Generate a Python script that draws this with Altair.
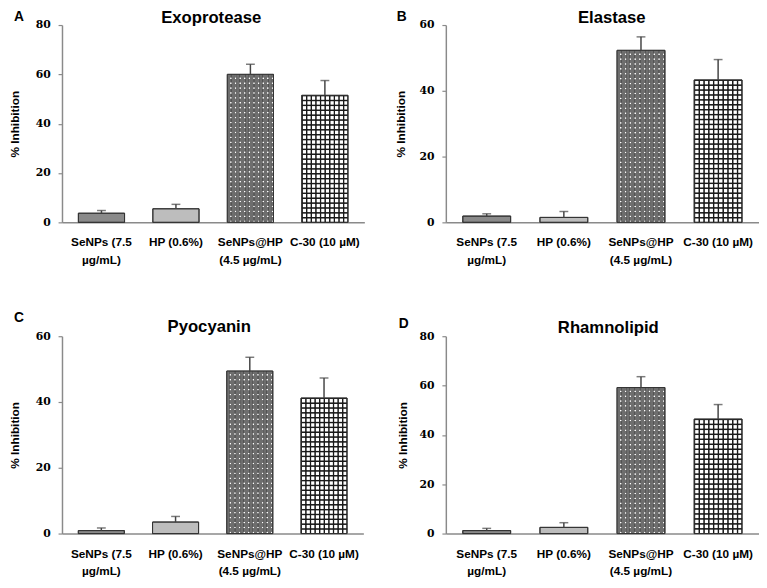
import altair as alt

# ---------------- data ----------------
categories = ["SeNPs (7.5\nµg/mL)", "HP (0.6%)", "SeNPs@HP\n(4.5 µg/mL)", "C-30 (10 µM)"]
panel_titles = ["Exoprotease", "Elastase", "Pyocyanin", "Rhamnolipid"]
panel_letters = ["A", "B", "C", "D"]
y_max = [80, 60, 60, 80]
y_ticks = [[0, 20, 40, 60, 80], [0, 20, 40, 60], [0, 20, 40, 60], [0, 20, 40, 60, 80]]

exoprotease = [3.7, 5.5, 60.0, 51.5]
exoprotease_err = [1.1, 1.8, 4.1, 6.0]
elastase = [1.9, 1.5, 52.3, 43.3]
elastase_err = [0.7, 1.8, 4.1, 6.2]
pyocyanin = [0.9, 3.5, 49.4, 41.2]
pyocyanin_err = [0.8, 1.7, 4.2, 6.1]
rhamnolipid = [1.2, 2.5, 59.2, 46.4]
rhamnolipid_err = [0.9, 1.9, 4.4, 5.9]

series = [exoprotease, elastase, pyocyanin, rhamnolipid]
series_err = [exoprotease_err, elastase_err, pyocyanin_err, rhamnolipid_err]

# ---------------- style ----------------
PLOT_H = 201
panel_w = [308, 319, 307, 319]
letter_pos = [(-49, -4.5), (-50, -4.5), (-49, -14), (-48, -8)]
title_pos = [(152, -1.8), (169, -2.2), (150, -4.3), (165.5, -3)]
ytitle_x = [-44, -42, -44.5, -40.5]
base_colors = ["#8a8a8a", "#bdbdbd", "#ffffff", "#ffffff"]
AXIS_GRAY = "#8a8a8a"
SANS = "Liberation Sans"


def stripes(n, on, off, a, r, across_y):
    stops = []
    for k in range(n):
        stops += [{"offset": round(k / n, 5), "color": on},
                  {"offset": round((k + a) / n, 5), "color": on},
                  {"offset": round((k + a + r) / n, 5), "color": off},
                  {"offset": round((k + 1 - r) / n, 5), "color": off}]
    stops.append({"offset": 1, "color": on})
    g = {"gradient": "linear", "x1": 0, "y1": 0, "stops": stops}
    if across_y:
        g.update({"x2": 0, "y2": 1})
    else:
        g.update({"x2": 1, "y2": 0})
    return g


def make_panel(i):
    vals, errs, ymax, W = series[i], series_err[i], y_max[i], panel_w[i]
    px = PLOT_H / ymax
    recs = []
    for j, (cat, v, e) in enumerate(zip(categories, vals, errs)):
        nh = max(1, int(round(v * px / 5.0)))
        if j == 2:  # gray with white dots
            hp = stripes(nh, "#6e6e6e", "transparent", 0.55, 0.15, True)
            vp = stripes(10, "#6e6e6e", "transparent", 0.55, 0.15, False)
        elif j == 3:  # black grid on white
            hp = stripes(nh, "#1a1a1a", "transparent", 0.12, 0.18, True)
            vp = stripes(10, "#1a1a1a", "transparent", 0.12, 0.18, False)
        else:
            hp = "transparent"
            vp = "transparent"
        recs.append({"category": cat, "value": v, "top": v + e,
                     "base": base_colors[j], "hpat": hp, "vpat": vp})
    data = alt.Data(values=recs)

    X = alt.X("category:N", sort=categories, title=None,
              scale=alt.Scale(paddingInner=0.38, paddingOuter=0.22),
              axis=alt.Axis(labelAngle=0, ticks=False, tickSize=0, labelPadding=15,
                            labelExpr="split(datum.label, '\\n')", labelLineHeight=18,
                            labelFont=SANS, labelFontSize=12, labelFontWeight="bold",
                            labelColor="black", domainColor=AXIS_GRAY, domainWidth=1.5))
    Y = alt.Y("value:Q", title="% Inhibition",
              scale=alt.Scale(domain=[0, ymax], nice=False),
              axis=alt.Axis(values=y_ticks[i], grid=False, tickSize=4, tickColor=AXIS_GRAY,
                            tickWidth=1.2, labelPadding=8, domainColor=AXIS_GRAY, domainWidth=1.5,
                            labelFont="DejaVu Serif", labelFontSize=11, labelFontWeight="bold",
                            labelColor="black", titleFont=SANS, titleFontSize=12,
                            titleFontWeight="bold", titleColor="black", titleAngle=270,
                            titleAlign="center", titleBaseline="alphabetic",
                            titleX=ytitle_x[i], titleY=PLOT_H / 2))

    base = alt.Chart(data).mark_bar(stroke="#333333", strokeWidth=1).encode(
        x=X, y=Y, fill=alt.Fill("base:N", scale=None))
    hl = alt.Chart(data).mark_bar().encode(x=X, y=Y, fill=alt.Fill("hpat:N", scale=None))
    vl = alt.Chart(data).mark_bar().encode(x=X, y=Y, fill=alt.Fill("vpat:N", scale=None))
    outline = alt.Chart(data).mark_bar(fillOpacity=0, stroke="#333333", strokeWidth=1).encode(x=X, y=Y)
    rule = alt.Chart(data).mark_rule(color="#444444", strokeWidth=1.5).encode(
        x=X, y=Y, y2="top:Q")
    cap = alt.Chart(data).mark_tick(color="#444444", thickness=1.5, size=9).encode(
        x=X, y=alt.Y("top:Q", title="% Inhibition", scale=alt.Scale(domain=[0, ymax], nice=False)))

    lx, ly = letter_pos[i]
    letter = alt.Chart(alt.Data(values=[{"t": panel_letters[i]}])).mark_text(
        align="left", baseline="alphabetic", font=SANS, fontSize=14, fontWeight="bold",
        color="black").encode(text="t:N", x=alt.value(lx), y=alt.value(ly))
    tx, ty = title_pos[i]
    title = alt.Chart(alt.Data(values=[{"t": panel_titles[i]}])).mark_text(
        align="center", baseline="alphabetic", font=SANS, fontSize=17, fontWeight="bold",
        color="black").encode(text="t:N", x=alt.value(tx), y=alt.value(ty))
    return alt.layer(base, hl, vl, outline, rule, cap, letter, title).properties(
        width=W, height=PLOT_H)


panels = [make_panel(i) for i in range(4)]
chart = alt.concat(*panels, columns=2, spacing={"row": 47, "column": 31}).properties(
    padding={"left": 0, "top": -5, "right": 0, "bottom": 0}
).configure_view(stroke=None).configure_axis(grid=False)

chart.save("out.html", embed_options={"renderer": "svg", "actions": False})
